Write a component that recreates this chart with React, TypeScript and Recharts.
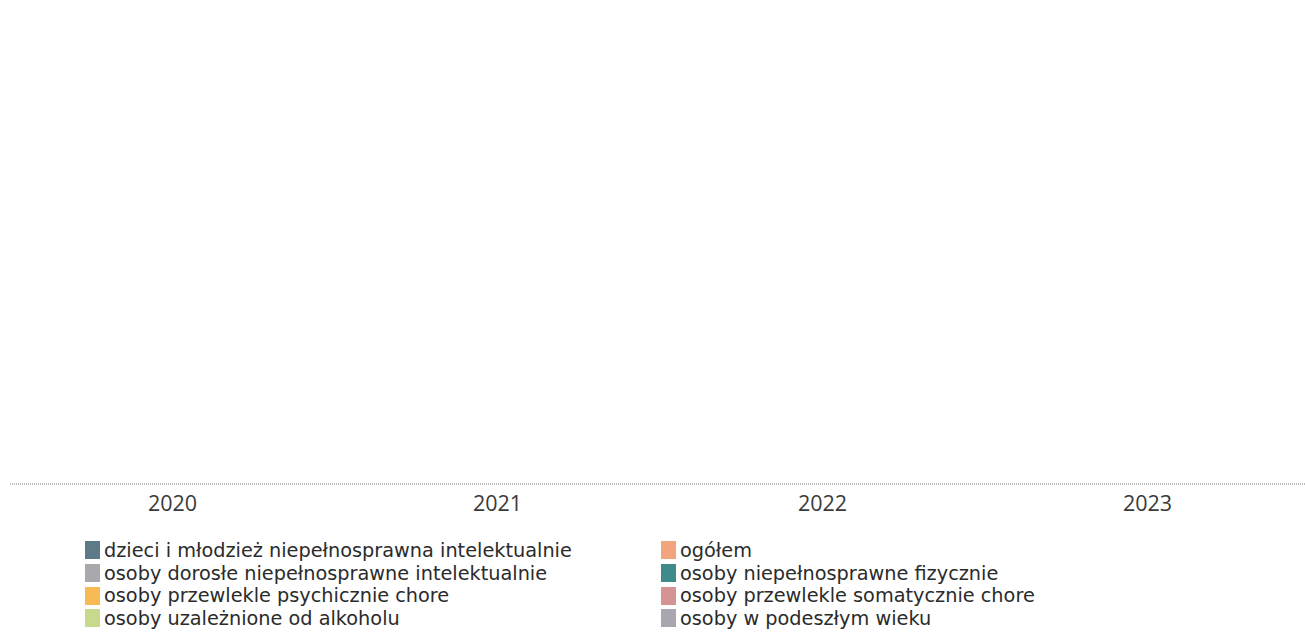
import { BarChart, Bar, XAxis, YAxis, Legend } from "recharts";

const years = ["2020", "2021", "2022", "2023"];

// no values are visible in the chart: every group is empty
const dzieci = [0, 0, 0, 0];
const ogolem = [0, 0, 0, 0];
const dorosle = [0, 0, 0, 0];
const fizycznie = [0, 0, 0, 0];
const psychicznie = [0, 0, 0, 0];
const somatycznie = [0, 0, 0, 0];
const alkohol = [0, 0, 0, 0];
const wiek = [0, 0, 0, 0];

const series = [
  { key: "dzieci", name: "dzieci i młodzież niepełnosprawna intelektualnie", values: dzieci, color: "#5d7a88" },
  { key: "ogolem", name: "ogółem", values: ogolem, color: "#f2a47c" },
  { key: "dorosle", name: "osoby dorosłe niepełnosprawne intelektualnie", values: dorosle, color: "#a9a8ac" },
  { key: "fizycznie", name: "osoby niepełnosprawne fizycznie", values: fizycznie, color: "#3f8a8a" },
  { key: "psychicznie", name: "osoby przewlekle psychicznie chore", values: psychicznie, color: "#f6bb55" },
  { key: "somatycznie", name: "osoby przewlekle somatycznie chore", values: somatycznie, color: "#d69393" },
  { key: "alkohol", name: "osoby uzależnione od alkoholu", values: alkohol, color: "#c6d98c" },
  { key: "wiek", name: "osoby w podeszłym wieku", values: wiek, color: "#aaa6b0" },
];

const data = years.map((year, i) => {
  const row: Record<string, string | number> = { year };
  series.forEach((s) => (row[s.key] = s.values[i]));
  return row;
});

function LegendGrid(props: any) {
  const items = props.payload || [];
  return (
    <div
      style={{
        display: "grid",
        gridTemplateColumns: "576px 500px",
        paddingLeft: 75,
        paddingTop: 15,
        fontFamily: "'DejaVu Sans', sans-serif",
        fontSize: 19.3,
        color: "#2b2b2b",
      }}
    >
      {items.map((it: any) => (
        <div key={it.value} style={{ display: "flex", alignItems: "center", height: 22.7 }}>
          <span style={{ width: 15, height: 18, background: it.color, marginRight: 4, flexShrink: 0 }} />
          <span style={{ whiteSpace: "nowrap" }}>{it.value}</span>
        </div>
      ))}
    </div>
  );
}

export default function App() {
  return (
    <div style={{ position: "absolute", left: 0, top: 0, width: 1305, height: 637, overflow: "hidden", background: "#fff" }}>
      <BarChart width={1310} height={637} data={data} margin={{ top: 15, right: 0, left: 10, bottom: 13 }}>
        <XAxis
          dataKey="year"
          height={40}
          tickLine={false}
          axisLine={{ stroke: "#777", strokeDasharray: "1 1" }}
          tick={{ fill: "#3a3a3a", fontSize: 21.5, fontFamily: "'Open Sans', sans-serif" }}
          tickMargin={6}
        />
        <YAxis width={0} tick={false} tickLine={false} axisLine={{ stroke: "#f3f3f3" }} />
        <Legend verticalAlign="bottom" align="left" height={100} content={<LegendGrid />} />
        {series.map((s) => (
          <Bar key={s.key} dataKey={s.key} name={s.name} fill={s.color} isAnimationActive={false} />
        ))}
      </BarChart>
    </div>
  );
}
